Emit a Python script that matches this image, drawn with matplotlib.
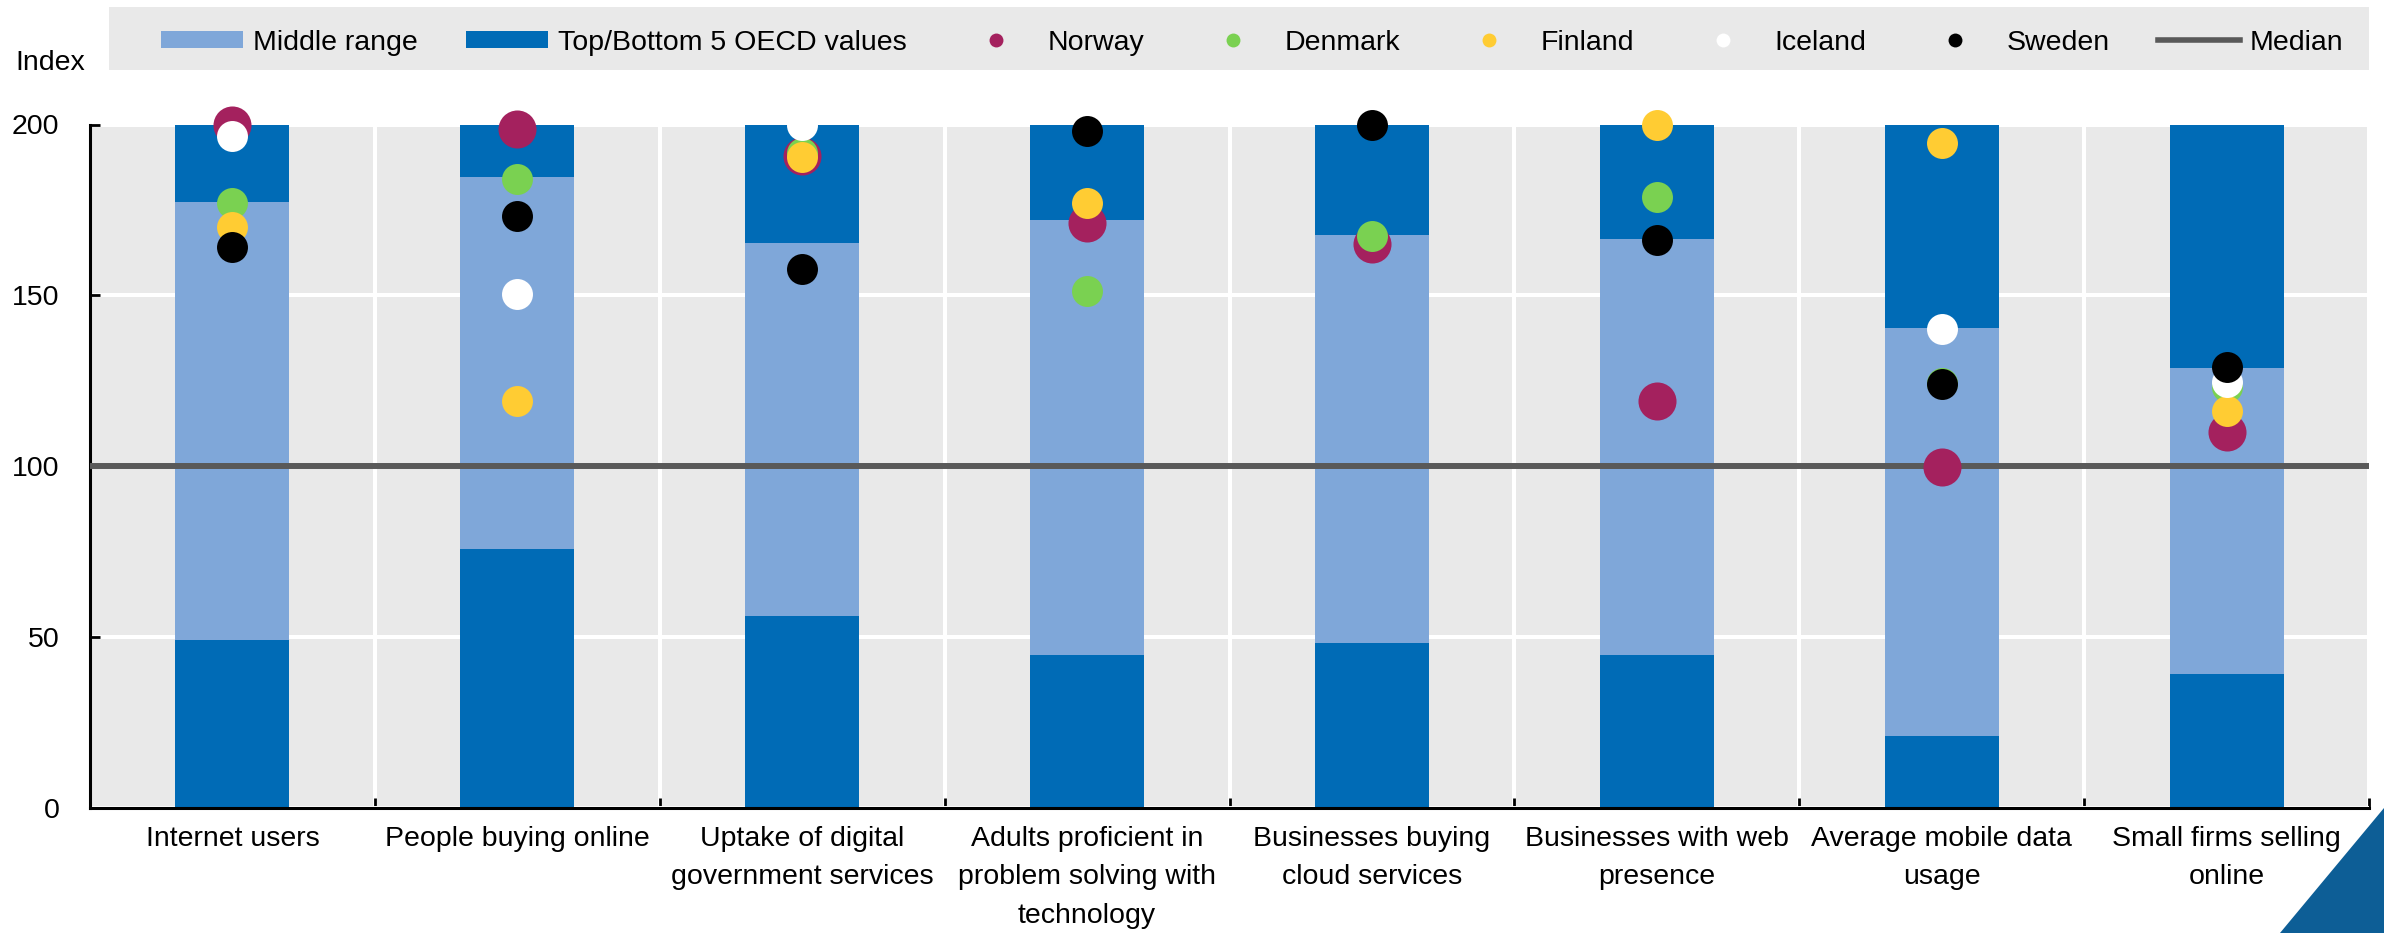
import matplotlib
matplotlib.use('Agg')
import matplotlib.pyplot as plt
import numpy as np
from matplotlib.patches import Patch, Polygon, Rectangle
from matplotlib.lines import Line2D

plt.rcParams['font.family'] = ['Liberation Sans', 'DejaVu Sans']
plt.rcParams['font.size'] = 20.5

# --- data (index, OECD median = 100) ---
categories = [
    "Internet users",
    "People buying online",
    "Uptake of digital\ngovernment services",
    "Adults proficient in\nproblem solving with\ntechnology",
    "Businesses buying\ncloud services",
    "Businesses with web\npresence",
    "Average mobile data\nusage",
    "Small firms selling\nonline",
]
bottom5 = [49.2, 75.8, 56.2, 44.7, 48.2, 44.7, 21.1, 39.3]      # top of bottom-5 block
top5 = [177.2, 184.5, 165.2, 172.1, 167.6, 166.5, 140.5, 128.7]  # start of top-5 block
scale_max = 200
median = 100

norway = [199.9, 198.6, 190.8, 171.1, 165.0, 119.2, 99.9, 110.1]
denmark = [177.1, 184.1, 191.6, 151.4, 167.4, 178.7, 124.5, 123.3]
finland = [169.9, 119.2, 190.4, 177.1, np.nan, 199.9, 194.5, 116.3]
iceland = [196.6, 150.4, 199.9, np.nan, np.nan, np.nan, 140.3, 124.7]
sweden = [164.2, 173.3, 157.7, 198.1, 199.9, 166.2, 124.1, 129.1]

# --- colours ---
dark = '#006BB6'
light = '#7FA7D9'
bg = '#E9E9E9'
med_col = '#595959'
countries = [
    ('Norway', norway, '#A4215E', 750),
    ('Denmark', denmark, '#7AD151', 497),
    ('Finland', finland, '#FFCC33', 497),
    ('Iceland', iceland, '#FFFFFF', 497),
    ('Sweden', sweden, '#000000', 497),
]

W, H = 2384, 933
fig = plt.figure(figsize=(W / 100, H / 100), dpi=100)
ax = fig.add_axes([90 / W, (H - 808) / H, (2369 - 90) / W, (808 - 124.5) / H])
ax.set_facecolor(bg)

x = np.arange(len(categories))
low = np.array(bottom5)
high = np.array(top5)
ax.bar(x, low, width=0.4, color=dark, zorder=2)
ax.bar(x, high - low, bottom=low, width=0.4, color=light, zorder=2)
ax.bar(x, scale_max - high, bottom=high, width=0.4, color=dark, zorder=2)

ax.axhline(median, color=med_col, lw=4.3, zorder=3)

for i, (name, vals, col, s) in enumerate(countries):
    ax.scatter(x, vals, s=s, color=col, linewidths=0, zorder=4 + i, clip_on=False)

ax.set_xlim(-0.5, len(categories) - 0.5)
ax.set_ylim(0, scale_max)
ax.set_yticks([0, 50, 100, 150, 200])
ax.set_xticks(np.arange(-0.5, len(categories)), minor=False)
ax.set_xticklabels([])
ax.set_xticks(x, minor=True)
ax.set_xticklabels(categories, minor=True)
for lab in ax.get_xticklabels(minor=True):
    lab.set_linespacing(1.62)

ax.tick_params(axis='y', direction='in', length=7, width=2, pad=22)
ax.tick_params(axis='x', which='major', direction='in', length=7, width=2)
ax.tick_params(axis='x', which='minor', length=0, pad=13)

ax.set_axisbelow(True)
ax.grid(True, which='major', color='white', lw=2.9)

for side in ['top', 'right']:
    ax.spines[side].set_visible(False)
for side in ['left', 'bottom']:
    ax.spines[side].set_linewidth(2.2)
    ax.spines[side].set_color('black')

fig.text(15 / W, 1 - 63 / H, "Index", ha='left', va='center')

# legend background strip
fig.patches.append(Rectangle((109 / W, 1 - 70 / H), (2369 - 109) / W, 63 / H,
                             transform=fig.transFigure, facecolor=bg, edgecolor='none', zorder=0))

handles = [Patch(facecolor=light, edgecolor='none'), Patch(facecolor=dark, edgecolor='none')]
labels = ['Middle range', 'Top/Bottom 5 OECD values']
for name, vals, col, s in countries:
    handles.append(Line2D([], [], marker='o', ls='', color=col, markersize=10, markeredgewidth=0))
    labels.append(name)
handles.append(Line2D([], [], color=med_col, lw=4))
labels.append('Median')

fig.legend(handles, labels, ncol=8, loc='center left',
           bbox_to_anchor=(161 / W, 1 - 42.5 / H), bbox_transform=fig.transFigure,
           frameon=False, borderpad=0, borderaxespad=0,
           handlelength=2.88, handleheight=0.56, handletextpad=0.35, columnspacing=1.7)

# corner triangle
fig.patches.append(Polygon([(2280 / W, 0), (1, 1 - 808 / H), (1, 0)],
                           transform=fig.transFigure, facecolor='#0D5E96', edgecolor='none'))

plt.savefig('out.png', dpi=100)
